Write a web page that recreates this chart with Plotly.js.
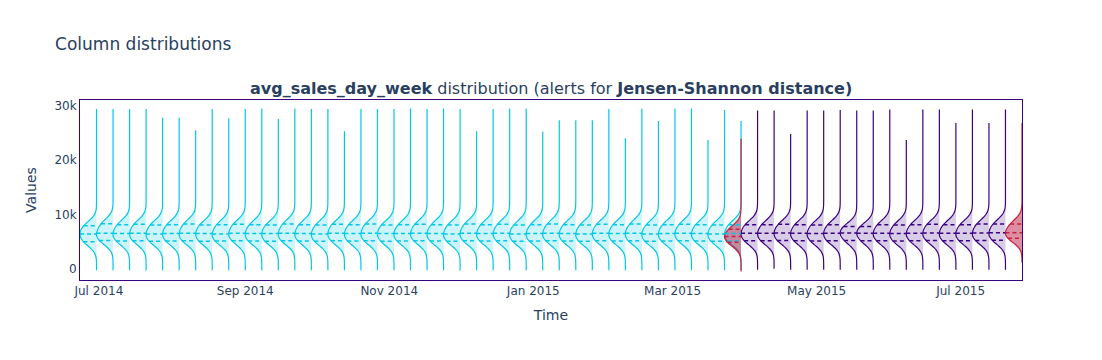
<!DOCTYPE html>
<html>
<head>
<meta charset="utf-8">
<script src="https://cdn.plot.ly/plotly-3.0.1.min.js"></script>
<style>html,body{margin:0;padding:0;background:#fff;}</style>
</head>
<body>
<div id="chart" style="width:1102px;height:360px;"></div>
<script>
// ---------- data ----------
// chunk end dates (weekly chunks); each distribution is drawn over the week ending here
const refChunkEnd = ['2014-06-30','2014-07-07','2014-07-14','2014-07-21','2014-07-28','2014-08-04','2014-08-11','2014-08-18','2014-08-25','2014-09-01','2014-09-08','2014-09-15','2014-09-22','2014-09-29','2014-10-06','2014-10-13','2014-10-20','2014-10-27','2014-11-03','2014-11-10','2014-11-17','2014-11-24','2014-12-01','2014-12-08','2014-12-15','2014-12-22','2014-12-29','2015-01-05','2015-01-12','2015-01-19','2015-01-26','2015-02-02','2015-02-09','2015-02-16','2015-02-23','2015-03-02','2015-03-09','2015-03-16','2015-03-23','2015-03-30'];
const refQ1     = [5000,5250,5150,5200,5100,5150,5200,5100,5150,5200,5150,5100,5200,5150,5100,5200,5150,5200,5100,5150,5200,5150,5100,5200,5150,5200,5100,5150,5200,5150,5100,5200,5150,5200,5100,5150,5200,5150,5100,5150];
const refMedian = [6450,6550,6500,6550,6450,6500,6550,6500,6450,6550,6500,6500,6550,6500,6450,6550,6500,6550,6500,6500,6550,6500,6450,6550,6500,6550,6450,6500,6550,6500,6450,6550,6500,6550,6450,6500,6550,6500,6450,6500];
const refQ3     = [7950,8300,8150,8200,8100,8150,8250,8100,8150,8200,8150,8100,8250,8150,8100,8200,8150,8250,8100,8150,8200,8150,8100,8250,8150,8200,8100,8150,8250,8150,8100,8200,8150,8250,8100,8150,8200,8150,8100,8150];
const refMin    = [-250,-250,-250,-250,-250,-250,-250,-250,-250,-250,-250,-250,-250,-250,-250,-250,-250,-250,-250,-250,-250,-250,-250,-250,-250,-250,-250,-250,-250,-250,-250,-250,-250,-250,-250,-250,-250,-250,-250,-250];
const refMax    = [29400,29400,29400,29400,27800,27800,25500,29400,27700,29400,29500,27600,29500,29400,29400,25300,29400,29400,29400,29500,29400,29500,29400,25300,29400,29500,29500,25200,27300,27300,27300,29400,24000,29500,27200,29500,29500,23700,29200,27200];

const anaChunkEnd = ['2015-03-30','2015-04-06','2015-04-13','2015-04-20','2015-04-27','2015-05-04','2015-05-11','2015-05-18','2015-05-25','2015-06-01','2015-06-08','2015-06-15','2015-06-22','2015-06-29','2015-07-06','2015-07-13','2015-07-20','2015-07-27'];
const anaQ1     = [4900,5200,5200,5250,5200,5150,5200,5250,5200,5200,5150,5200,5250,5200,5200,5250,5300,5630];
const anaMedian = [5950,6550,6550,6600,6550,6500,6550,6600,6550,6550,6500,6550,6600,6550,6550,6600,6650,6670];
const anaQ3     = [7300,8150,8150,8200,8150,8100,8150,7800,7800,8150,8100,8150,8200,8150,8150,8250,8270,8270];
const anaMin    = [-450,-150,100,-150,-150,-150,-150,-150,-150,-150,-150,-150,-150,-150,-150,-150,-150,1300];
const anaMax    = [23900,29100,29100,24800,29100,29100,29200,29100,29100,29300,23700,29300,29300,26800,29300,26800,29300,26800];
const anaAlert  = [true,false,false,false,false,false,false,false,false,false,false,false,false,false,false,false,false,true];

const yTickVals = [0,10000,20000,30000];
const yTickText = ['0','10k','20k','30k'];

// ---------- style ----------
const CYAN = '#00c8e5', CYAN_FILL = 'rgba(0,200,229,0.2)';
const PURPLE = '#3b0280', PURPLE_FILL = 'rgba(59,2,128,0.2)';
const RED = '#c8213f', RED_FILL = 'rgba(190,30,70,0.5)';
const FONT = 'Verdana, "DejaVu Sans", sans-serif';
const TXT = '#2a3f5f';
const DAY = 86400000;
const HALF_WIDTH = 7 * DAY;      // one chunk wide
const BW = 1200;                 // KDE bandwidth

function kdeFn(samples, bw) {
  return v => samples.reduce((s, x) => s + Math.exp(-0.5 * Math.pow((v - x) / bw, 2)), 0);
}
function maxKDE(f, lo, hi, bw) {
  const dist = hi - lo, n = Math.ceil(dist / (bw / 3)), step = dist / n;
  let m = 0;
  for (let t = lo; t < hi + step / 2; t += step) m = Math.max(m, f(t));
  return m;
}
function toDateStr(ms) { return new Date(ms).toISOString().replace('Z', '').replace('T', ' '); }

const traces = [];
const lines = {};
function addChunk(end, q1, med, q3, mn, mx, color, fill, key) {
  const samples = [q1, med, q3];
  traces.push({
    type: 'violin', x: samples.map(() => end), y: samples,
    side: 'negative', width: 2 * HALF_WIDTH, scalemode: 'width',
    bandwidth: BW, spanmode: 'manual', span: [mn, mx],
    points: false, box: {visible: false}, meanline: {visible: false},
    line: {color: color, width: 1.2}, fillcolor: fill,
    hoverinfo: 'skip', showlegend: false
  });
  const f = kdeFn(samples, BW);
  const m = maxKDE(f, mn, mx, BW);
  const endMs = Date.parse(end);
  if (!lines[key]) lines[key] = {x: [], y: [], color: color};
  [q1, med, q3].forEach(q => {
    lines[key].x.push(toDateStr(endMs - HALF_WIDTH * f(q) / m), end, null);
    lines[key].y.push(q, q, null);
  });
}
refChunkEnd.forEach((d, i) => addChunk(d, refQ1[i], refMedian[i], refQ3[i], refMin[i], refMax[i], CYAN, CYAN_FILL, 'ref'));
anaChunkEnd.forEach((d, i) => {
  if (anaAlert[i]) return;
  addChunk(d, anaQ1[i], anaMedian[i], anaQ3[i], anaMin[i], anaMax[i], PURPLE, PURPLE_FILL, 'ana');
});
anaChunkEnd.forEach((d, i) => {
  if (!anaAlert[i]) return;
  addChunk(d, anaQ1[i], anaMedian[i], anaQ3[i], anaMin[i], anaMax[i], RED, RED_FILL, 'alert');
});
Object.keys(lines).forEach(k => {
  traces.push({
    type: 'scatter', mode: 'lines', x: lines[k].x, y: lines[k].y,
    line: {color: lines[k].color, width: 1.5, dash: '4px,3px'},
    hoverinfo: 'skip', showlegend: false, connectgaps: false
  });
});

const axisCommon = {
  showgrid: false, zeroline: false, showline: true, mirror: true,
  linecolor: PURPLE, linewidth: 1, ticks: '',
  tickfont: {family: FONT, color: TXT, size: 12}
};
const layout = {
  width: 1102, height: 360,
  margin: {l: 80, r: 80, t: 100, b: 80},
  paper_bgcolor: '#fff', plot_bgcolor: '#fff',
  font: {family: FONT, color: TXT},
  title: {text: 'Column distributions', font: {family: FONT, size: 17, color: TXT}, x: 0.05},
  showlegend: false,
  violinmode: 'overlay',
  xaxis: Object.assign({}, axisCommon, {
    type: 'date', range: ['2014-06-23', '2015-07-27'],
    dtick: 'M2', tick0: '2014-07-01', tickformat: '%b %Y',
    title: {text: 'Time', font: {family: FONT, color: TXT, size: 14}, standoff: 12}
  }),
  yaxis: Object.assign({}, axisCommon, {
    range: [-2020, 31040], tickvals: yTickVals, ticktext: yTickText,
    title: {text: 'Values', font: {family: FONT, color: TXT, size: 14}, standoff: 14}
  }),
  annotations: [{
    text: '<b>avg_sales_day_week</b> distribution (alerts for <b>Jensen-Shannon distance)</b>',
    x: 0.5, y: 1, xref: 'paper', yref: 'paper', xanchor: 'center', yanchor: 'bottom',
    showarrow: false, font: {family: FONT, size: 16, color: TXT}
  }]
};
Plotly.newPlot('chart', traces, layout, {displayModeBar: false, staticPlot: true});
</script>
</body>
</html>
